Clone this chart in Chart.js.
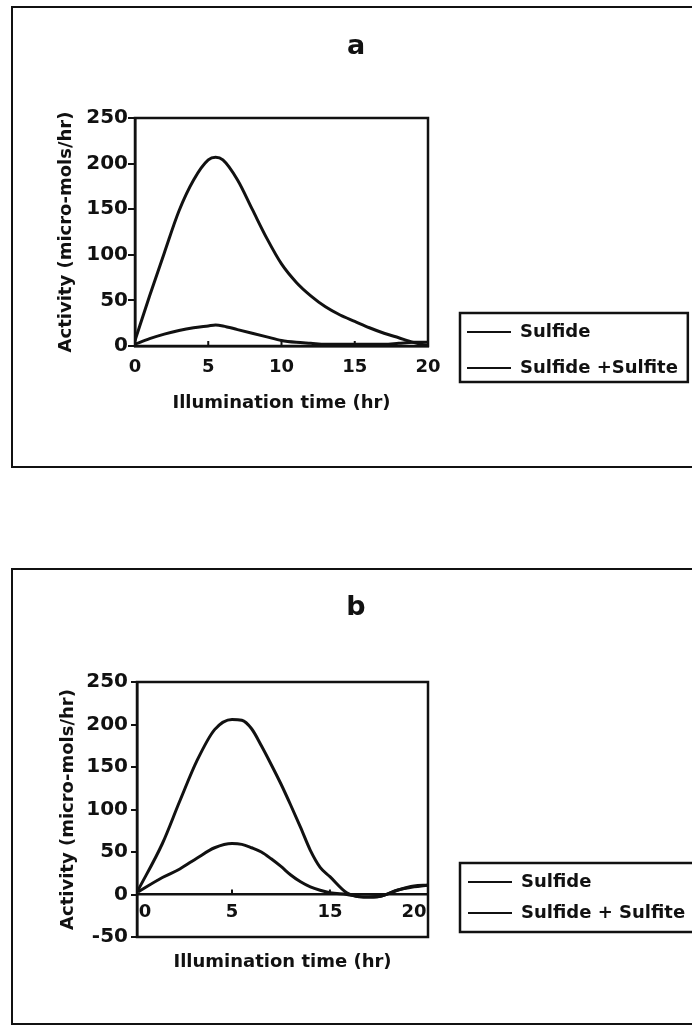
<!DOCTYPE html>
<html><head><meta charset="utf-8">
<script src="https://cdn.jsdelivr.net/npm/chart.js@4.4.1/dist/chart.umd.min.js"></script>
<style>
html,body{margin:0;padding:0;background:#fff;overflow:hidden;width:692px;height:1026px;}
.panel{position:absolute;left:11px;width:720px;border:2px solid #111;background:#fff;}
#pa{top:6px;height:458px;}
#pb{top:568px;height:453px;}
canvas{position:absolute;left:0;top:0;display:block;}
</style></head><body>
<div class="panel" id="pa"><canvas id="ca" width="679" height="458"></canvas></div>
<div class="panel" id="pb"><canvas id="cb" width="679" height="453"></canvas></div>
<script>
// ---------------- data ----------------
const panelTitleA = 'a';
const panelTitleB = 'b';
const xAxisTitle = 'Illumination time (hr)';
const yAxisTitle = 'Activity (micro-mols/hr)';

const seriesNamesA = ['Sulfide', 'Sulfide +Sulfite'];
const seriesNamesB = ['Sulfide', 'Sulfide + Sulfite'];

const hoursA = [0, 1, 2, 3, 4, 5, 5.5, 6, 7, 8, 9, 10, 11, 12, 13, 14, 15, 16, 17, 18, 19, 20];
const sulfideA = [6, 55, 102, 148, 182, 204, 207, 204, 182, 150, 118, 90, 70, 55, 43, 34, 27, 20, 14, 9, 4, 0];
const sulfiteA = [2, 8, 13, 17, 20, 22, 23, 22, 18, 14, 10, 6, 4, 3, 2, 2, 2, 2, 2, 3, 4, 4];

const hoursB = [-0.4, 1, 2, 3, 4, 5, 6, 7, 8, 9, 10, 11, 12, 13, 14, 15, 16, 17, 18, 19, 20, 20.8];
const sulfideB = [5, 60, 110, 158, 194, 206, 205, 195, 175, 153, 130, 105, 79, 52, 32, 21, 2, -3, -2, 5, 10, 11];
const sulfiteB = [3, 20, 30, 43, 55, 60, 59, 55, 50, 42, 33, 23, 15, 9, 5, 2, 0, -3, -2, 5, 9, 11];

const xTicksA = [0, 5, 10, 15, 20];
const yTicksA = [0, 50, 100, 150, 200, 250];
const xTicksB = [0, 5, 15, 20];
const yTicksB = [-50, 0, 50, 100, 150, 200, 250];

// ---------------- style ----------------
const INK = '#111';
Chart.defaults.font.family = "'DejaVu Sans', sans-serif";
Chart.defaults.color = INK;
Chart.defaults.animation = false;

// panel b's printed time axis is not evenly spaced: value -> fraction of axis width
const B_AXIS_STOPS = [[0, 0.0275], [5, 0.3265], [15, 0.663], [20, 0.952]];
class PiecewiseScale extends Chart.LinearScale {
  static id = 'piecewise';
  static defaults = {};
  _toDecimal(v) {
    const s = B_AXIS_STOPS;
    let i = 1;
    while (i < s.length - 1 && v > s[i][0]) i++;
    const a = s[i - 1], b = s[i];
    return a[1] + (v - a[0]) * (b[1] - a[1]) / (b[0] - a[0]);
  }
  _fromDecimal(d) {
    const s = B_AXIS_STOPS;
    let i = 1;
    while (i < s.length - 1 && d > s[i][1]) i++;
    const a = s[i - 1], b = s[i];
    return a[0] + (d - a[1]) * (b[0] - a[0]) / (b[1] - a[1]);
  }
  getPixelForValue(v) {
    if (v === null || v === undefined || isNaN(v)) return NaN;
    return this.getPixelForDecimal(this._toDecimal(v));
  }
  getValueForPixel(p) {
    return this._fromDecimal(this.getDecimalForPixel(p));
  }
}
Chart.register(PiecewiseScale);

const pts = (xs, ys) => xs.map((x, i) => ({x: x, y: ys[i]}));

const framePlugin = {
  id: 'frame',
  afterDatasetsDraw(chart) {
    const {ctx, chartArea: a} = chart;
    ctx.save();
    ctx.strokeStyle = INK;
    ctx.lineWidth = 2.5;
    ctx.strokeRect(a.left, a.top, a.right - a.left, a.bottom - a.top);
    ctx.restore();
  }
};

const innerTicks = {
  id: 'innerTicks',
  afterDatasetsDraw(chart, args, opts) {
    const {ctx, chartArea: a} = chart;
    const xs = chart.scales.x, ys = chart.scales.y;
    const pos = xs.options.position;
    const base = (typeof pos === 'object') ? ys.getPixelForValue(pos.y) : a.bottom;
    ctx.save();
    ctx.strokeStyle = INK;
    ctx.lineWidth = 2;
    xs.ticks.forEach(t => {
      const px = xs.getPixelForValue(t.value);
      if (px - a.left < 16 || a.right - px < 16) return;
      ctx.beginPath();
      ctx.moveTo(px, base);
      ctx.lineTo(px, base - opts.len);
      ctx.stroke();
    });
    ctx.restore();
  }
};

const legendPlace = {
  id: 'legendPlace',
  afterLayout(chart, args, opts) {
    const lg = chart.legend;
    if (!lg) return;
    lg.left = opts.left; lg.top = opts.top;
    lg.right = lg.left + lg.width; lg.bottom = lg.top + lg.height;
  }
};

const legendFrame = {
  id: 'legendFrame',
  afterDraw(chart, args, opts) {
    const hb = chart.legend && chart.legend.legendHitBoxes;
    if (!hb || !hb.length) return;
    let l = Infinity, t = Infinity, r = -Infinity, b = -Infinity;
    hb.forEach(h => { l = Math.min(l, h.left); t = Math.min(t, h.top); r = Math.max(r, h.left + h.width); b = Math.max(b, h.top + h.height); });
    const ctx = chart.ctx;
    ctx.save();
    ctx.strokeStyle = INK;
    ctx.lineWidth = 2.5;
    ctx.strokeRect(l - opts.padL, t - opts.padT, (r + opts.padR) - (l - opts.padL), (b + opts.padB) - (t - opts.padT));
    ctx.restore();
  }
};

function legendLabels(chart) {
  const items = Chart.defaults.plugins.legend.labels.generateLabels(chart);
  items.forEach(i => { i.lineWidth = 2; i.strokeStyle = INK; });
  return items;
}

function lineDataset(label, xs, ys) {
  return {
    label: label,
    data: pts(xs, ys),
    xAxisID: 'x',
    yAxisID: 'y',
    borderColor: INK,
    backgroundColor: INK,
    borderWidth: 3,
    pointRadius: 0,
    pointStyle: 'line',
    fill: false,
    cubicInterpolationMode: 'monotone'
  };
}

function makeChart(el, cfg) {
  return new Chart(el, {
    type: 'line',
    data: {datasets: [
      lineDataset(cfg.names[0], cfg.hours, cfg.s1),
      lineDataset(cfg.names[1], cfg.hours, cfg.s2)
    ]},
    plugins: [framePlugin, innerTicks, legendPlace, legendFrame],
    options: {
      responsive: false,
      animation: false,
      layout: {padding: cfg.layoutPad},
      plugins: {
        tooltip: {enabled: false},
        title: {
          display: true, text: cfg.title, color: INK,
          font: {size: 27, weight: 'bold'},
          padding: cfg.titlePad
        },
        legend: {
          display: true, position: 'chartArea', align: 'start',
          labels: {
            usePointStyle: true, pointStyle: 'line', pointStyleWidth: 44,
            font: {size: 18, weight: 'bold'}, color: INK,
            padding: cfg.legendGap, generateLabels: legendLabels
          }
        },
        innerTicks: {len: 5},
        legendPlace: cfg.legendAt,
        legendFrame: cfg.legendFrame
      },
      scales: {
        x: Object.assign({
          min: cfg.xMin, max: cfg.xMax,
          afterBuildTicks: s => { s.ticks = cfg.xTicks.map(v => ({value: v})); },
          afterFit: s => { s.height = cfg.xHeight; },
          ticks: {font: {size: 18, weight: 'bold'}, color: INK, padding: cfg.xTickPad, maxRotation: 0, autoSkip: false, callback: v => String(v)},
          grid: {display: false, drawTicks: false},
          border: {display: true, color: INK, width: 2.5},
          title: {display: true, text: xAxisTitle, color: INK, font: {size: 18, weight: 'bold'}, padding: {top: 0, bottom: cfg.xTitlePadB}}
        }, cfg.xExtra),
        y: {
          type: 'linear', position: 'left',
          min: cfg.yMin, max: cfg.yMax,
          afterBuildTicks: s => { s.ticks = cfg.yTicks.map(v => ({value: v})); },
          afterFit: s => { s.width = cfg.yWidth; },
          ticks: {font: {size: 20, weight: 'bold'}, color: INK, padding: cfg.yTickPad, callback: v => String(v)},
          grid: {display: true, drawOnChartArea: false, drawTicks: true, tickLength: cfg.yTickLen, color: INK, lineWidth: 2},
          border: {display: true, color: INK, width: 2.5},
          title: {display: true, text: yAxisTitle, color: INK, font: {size: 18, weight: 'bold'}, padding: {top: cfg.yTitlePadT, bottom: 0}}
        },
        // empty spacer on the right that leaves room for the legend
        yRight: {
          type: 'linear', position: 'right', min: 0, max: 1,
          afterFit: s => { s.width = cfg.rightGap; },
          ticks: {display: false},
          grid: {display: false, drawTicks: false},
          border: {display: false},
          title: {display: false}
        }
      }
    }
  });
}

makeChart(document.getElementById('ca'), {
  names: seriesNamesA, hours: hoursA, s1: sulfideA, s2: sulfiteA,
  title: panelTitleA, titlePad: {top: 22.8, bottom: 54.8},
  layoutPad: {left: 7, right: 0, top: 0, bottom: 40},
  xMin: 0, xMax: 20, xTicks: xTicksA, xHeight: 80, xTickPad: 10.2, xTitlePadB: 12.2,
  xExtra: {type: 'linear', position: 'bottom'},
  yMin: 0, yMax: 250, yTicks: yTicksA, yWidth: 115, yTickPad: 0, yTickLen: 7, yTitlePadT: 35.2,
  rightGap: 264,
  legendGap: 18, legendAt: {left: 436, top: 297},
  legendFrame: {padL: 7, padT: 10, padR: 10, padB: 5}
});

makeChart(document.getElementById('cb'), {
  names: seriesNamesB, hours: hoursB, s1: sulfideB, s2: sulfiteB,
  title: panelTitleB, titlePad: {top: 21.8, bottom: 57.8},
  layoutPad: {left: 7, right: 0, top: 0, bottom: 86},
  xMin: -0.46, xMax: 20.83, xTicks: xTicksB, xHeight: 84, xTickPad: 6.7, xTitlePadB: 5.2,
  xExtra: {type: 'piecewise', position: {y: 0}},
  yMin: -50, yMax: 250, yTicks: yTicksB, yWidth: 117, yTickPad: 3, yTickLen: 6, yTitlePadT: 37.2,
  rightGap: 264,
  legendGap: 13, legendAt: {left: 442, top: 290},
  legendFrame: {padL: 8, padT: 10, padR: 10, padB: 10}
});
</script>
</body></html>
